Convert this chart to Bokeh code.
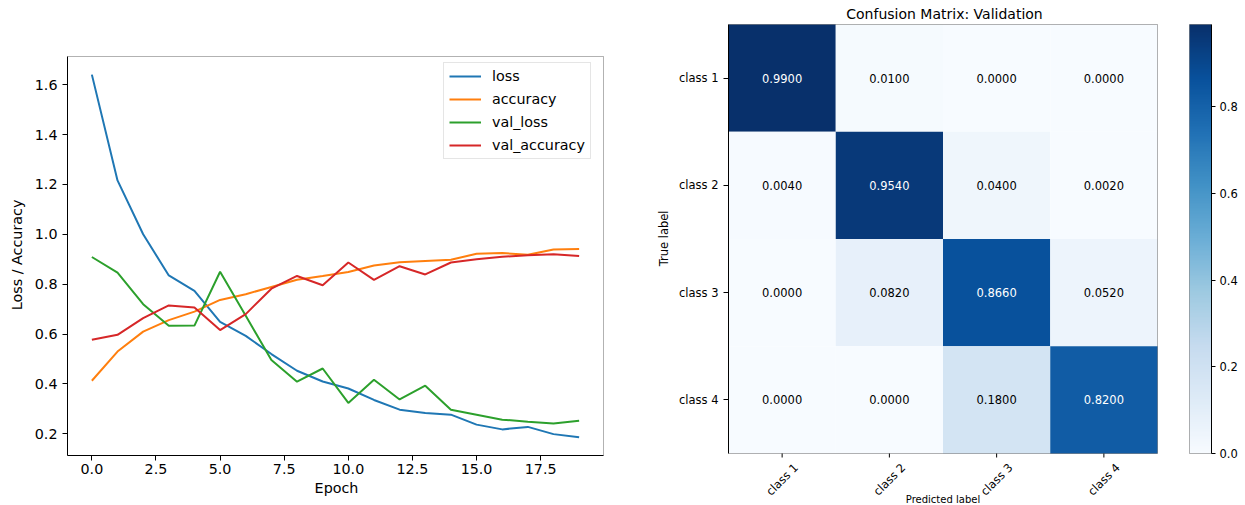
import math
import numpy as np
from bokeh.plotting import figure
from bokeh.layouts import row
from bokeh.models import (ColumnDataSource, FixedTicker, PrintfTickFormatter, Range1d,
                          LinearColorMapper, Legend, LegendItem, BoxAnnotation)
from bokeh.palettes import Blues256
from bokeh.embed import file_html
from bokeh.resources import INLINE
from bokeh.core.properties import value

FONT = "DejaVu Sans"

# ---------------- data ----------------
epochs = list(range(20))
loss = [1.64, 1.216, 1.0, 0.835, 0.773, 0.649, 0.593, 0.52, 0.453, 0.41,
        0.382, 0.336, 0.297, 0.284, 0.277, 0.237, 0.218, 0.228, 0.199, 0.186]
accuracy = [0.413, 0.53, 0.61, 0.656, 0.69, 0.737, 0.76, 0.789, 0.818, 0.833,
            0.849, 0.875, 0.888, 0.893, 0.898, 0.922, 0.925, 0.918, 0.939, 0.941]
val_loss = [0.909, 0.846, 0.72, 0.633, 0.634, 0.85, 0.673, 0.496, 0.409, 0.462,
            0.324, 0.417, 0.338, 0.393, 0.297, 0.277, 0.257, 0.249, 0.242, 0.253]
val_accuracy = [0.577, 0.597, 0.664, 0.715, 0.707, 0.616, 0.68, 0.782, 0.833, 0.796,
                0.887, 0.817, 0.872, 0.839, 0.887, 0.9, 0.91, 0.916, 0.92, 0.913]
series_names = ["loss", "accuracy", "val_loss", "val_accuracy"]
series_colors = ["#1f77b4", "#ff7f0e", "#2ca02c", "#d62728"]
x_ticks = [0.0, 2.5, 5.0, 7.5, 10.0, 12.5, 15.0, 17.5]
y_ticks = [0.2, 0.4, 0.6, 0.8, 1.0, 1.2, 1.4, 1.6]

class_labels = ["class 1", "class 2", "class 3", "class 4"]
cm_row1 = [0.99, 0.01, 0.0, 0.0]
cm_row2 = [0.004, 0.954, 0.04, 0.002]
cm_row3 = [0.0, 0.082, 0.866, 0.052]
cm_row4 = [0.0, 0.0, 0.18, 0.82]
cbar_ticks = [0.0, 0.2, 0.4, 0.6, 0.8]

# ---------------- layout constants (pixels) ----------------
TOP = 22          # common frame top of all panels (the row aligns frame tops)
AX_TOP = 56       # top of the visible box of the left axes
AX_BOTTOM = 455   # bottom of the left axes
CM_TOP = 24       # top of the confusion matrix / colour bar
CM_SIZE = 429     # confusion-matrix size
CM_BOTTOM = CM_TOP + CM_SIZE
PAGE_BOTTOM = 505
XLAB_OFFSET = 26  # centre of rotated class labels below the matrix
XTITLE_OFFSET = 45.5
SPACE_EM = 0.318  # DejaVu Sans space width


def style_axis(ax, size):
    ax.major_label_text_font = FONT
    ax.major_label_text_font_size = size
    ax.major_label_text_color = "black"
    ax.axis_label_text_font = FONT
    ax.axis_label_text_font_size = size
    ax.axis_label_text_font_style = "normal"
    ax.axis_label_text_color = "black"
    ax.major_tick_out = 5
    ax.major_tick_in = 0
    ax.minor_tick_line_color = None
    ax.axis_line_color = "black"
    ax.major_tick_line_color = "black"


def pad_label(text, shift_px, font_px):
    """Shift a vertical axis label along the axis (positive = down) with no-break spaces."""
    nsp = int(round(abs(2 * shift_px) / (SPACE_EM * font_px)))
    pad = "\u00a0" * nsp
    return text + pad if shift_px > 0 else pad + text


# ---------------- left: training history ----------------
all_vals = loss + accuracy + val_loss + val_accuracy
lo, hi = min(all_vals), max(all_vals)
ylo, yhi = lo - 0.05 * (hi - lo), hi + 0.05 * (hi - lo)
xlo = epochs[0] - 0.05 * (epochs[-1] - epochs[0])
xhi = epochs[-1] + 0.05 * (epochs[-1] - epochs[0])
P1_FW = 536
ypx = (yhi - ylo) / (AX_BOTTOM - AX_TOP)
xpx = (xhi - xlo) / P1_FW

p1 = figure(frame_width=P1_FW + 2, frame_height=AX_BOTTOM - TOP, output_backend="svg",
            toolbar_location=None,
            x_range=Range1d(xlo, xhi + 2 * xpx),
            y_range=Range1d(ylo, yhi + (AX_TOP - TOP) * ypx),
            min_border_left=67, min_border_right=35, min_border_top=TOP, min_border_bottom=50)
p1.grid.visible = False
p1.outline_line_color = None

items = []
for name, col, ys in zip(series_names, series_colors, [loss, accuracy, val_loss, val_accuracy]):
    r = p1.line(epochs, ys, line_color=col, line_width=2)
    items.append(LegendItem(label=name, renderers=[r]))

p1.add_layout(BoxAnnotation(left=xlo, right=xhi, bottom=ylo, top=yhi,
                            fill_alpha=0, line_color="black", line_width=1))

legend = Legend(items=items, location=(376, 296), label_text_font=FONT,
                label_text_font_size="14.3px", label_text_color="black",
                glyph_width=32, glyph_height=16, label_height=16, label_standoff=11,
                spacing=7, padding=5, margin=0,
                border_line_color="#cccccc", border_line_width=1,
                background_fill_color="white", background_fill_alpha=0.8)
p1.add_layout(legend)

p1.xaxis.ticker = FixedTicker(ticks=x_ticks)
p1.yaxis.ticker = FixedTicker(ticks=y_ticks)
p1.xaxis.formatter = PrintfTickFormatter(format="%.1f")
p1.yaxis.formatter = PrintfTickFormatter(format="%.1f")
style_axis(p1.xaxis, "14.3px")
style_axis(p1.yaxis, "14.3px")
p1.xaxis.axis_label = "Epoch"
frame_mid = (TOP + AX_BOTTOM) / 2
box_mid = (AX_TOP + AX_BOTTOM) / 2
p1.yaxis.axis_label = pad_label("Loss / Accuracy", box_mid - frame_mid, 14.3)
p1.yaxis.bounds = (ylo, yhi)
p1.xaxis.bounds = (xlo, xhi)
p1.xaxis.major_label_standoff = 3
p1.xaxis.axis_label_standoff = 3
p1.yaxis.axis_label_standoff = 7

# ---------------- right: confusion matrix ----------------
cm = [cm_row1, cm_row2, cm_row3, cm_row4]
n = len(class_labels)
vmax = max(max(r_) for r_ in cm)
thresh = vmax / 2.0
xs, ys, vals, texts, tcolors = [], [], [], [], []
for i, row_vals in enumerate(cm):
    for j, v in enumerate(row_vals):
        xs.append(j)
        ys.append(i)
        vals.append(v)
        texts.append("%.4f" % v)
        tcolors.append("white" if v > thresh else "black")
src = ColumnDataSource(dict(x=xs, y=ys, v=vals, t=texts, c=tcolors))

mapper = LinearColorMapper(palette=list(reversed(Blues256)), low=0.0, high=vmax)

k = n / CM_SIZE   # data units per pixel
p2_fh = PAGE_BOTTOM - TOP
p2 = figure(frame_width=CM_SIZE + 3, frame_height=p2_fh, output_backend="svg",
            toolbar_location=None, x_axis_location=None,
            x_range=Range1d(-0.5, n - 0.5 + 3 * k),
            y_range=Range1d(n - 0.5 + (PAGE_BOTTOM - CM_BOTTOM) * k, -0.5 - (CM_TOP - TOP) * k),
            min_border_left=88, min_border_right=0, min_border_top=TOP, min_border_bottom=0,
            title="Confusion Matrix: Validation")
p2.grid.visible = False
p2.outline_line_color = None
p2.title.align = "center"
p2.title.text_font = FONT
p2.title.text_font_size = "14px"
p2.title.text_font_style = "normal"
p2.title.text_color = "black"
p2.title.standoff = 1

p2.rect(x="x", y="y", width=1, height=1, source=src,
        fill_color={"field": "v", "transform": mapper}, line_color=None)
p2.text(x="x", y="y", text="t", source=src, text_color="c",
        text_align="center", text_baseline="middle",
        text_font=value(FONT), text_font_size="11.5px")
p2.add_layout(BoxAnnotation(left=-0.5, right=n - 0.5, bottom=n - 0.5, top=-0.5,
                            fill_alpha=0, line_color="black", line_width=1))

tick_pos = list(range(n))
# x ticks, rotated class labels and x title (matplotlib style, centred under ticks)
p2.segment(x0=tick_pos, y0=[n - 0.5] * n, x1=tick_pos, y1=[n - 0.5 + 4 * k] * n,
           line_color="black", line_width=1)
p2.text(x=tick_pos, y=[n - 0.5 + XLAB_OFFSET * k] * n, text=class_labels,
        angle=math.pi / 4, text_align="center", text_baseline="middle",
        text_font=value(FONT), text_font_size="11.5px", text_color="black")
p2.text(x=[(n - 1) / 2], y=[n - 0.5 + XTITLE_OFFSET * k], text=["Predicted label"],
        text_align="center", text_baseline="middle",
        text_font=value(FONT), text_font_size="10px", text_color="black")

p2.yaxis.ticker = FixedTicker(ticks=tick_pos)
p2.yaxis.major_label_overrides = {t: lab for t, lab in zip(tick_pos, class_labels)}
style_axis(p2.yaxis, "11.5px")
p2.yaxis.bounds = (-0.5, n - 0.5)
p2_frame_mid = (TOP + PAGE_BOTTOM) / 2
cm_mid = (CM_TOP + CM_BOTTOM) / 2
p2.yaxis.axis_label = pad_label("True label", cm_mid - p2_frame_mid, 11.5)

# ---------------- colour bar as its own small plot ----------------
grad = np.linspace(0.0, vmax, 256).reshape(256, 1)
cpx = vmax / CM_SIZE
p3 = figure(frame_width=24, frame_height=CM_SIZE + 4, output_backend="svg",
            toolbar_location=None,
            x_range=Range1d(-2 / 22, 1), y_range=Range1d(-2 * cpx, vmax + 2 * cpx),
            y_axis_location="right",
            min_border_left=27, min_border_right=28, min_border_top=TOP, min_border_bottom=40)
p3.image(image=[grad], x=0, y=0, dw=1, dh=vmax, color_mapper=mapper)
p3.grid.visible = False
p3.xaxis.visible = False
p3.outline_line_color = None
p3.add_layout(BoxAnnotation(left=0, right=1, bottom=0, top=vmax,
                            fill_alpha=0, line_color="black", line_width=1))
p3.yaxis.ticker = FixedTicker(ticks=cbar_ticks)
p3.yaxis.formatter = PrintfTickFormatter(format="%.1f")
style_axis(p3.yaxis, "11.5px")
p3.yaxis.bounds = (0.0, vmax)
p3.yaxis.major_tick_out = 4
p3.yaxis.major_label_standoff = 4

layout = row(p1, p2, p3)
open("out.html", "w").write(file_html(layout, INLINE))
